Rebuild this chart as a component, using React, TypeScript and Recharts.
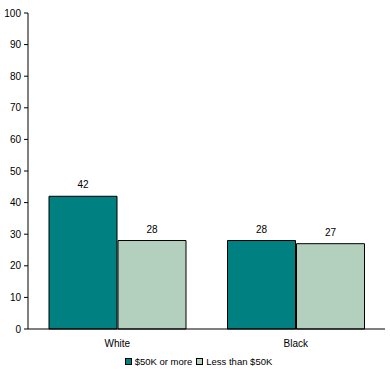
import { Bar, BarChart, LabelList, Legend, XAxis, YAxis } from "recharts";

const categories = ["White", "Black"];
const highIncome = [42, 28];
const lowIncome = [28, 27];
const yTicks = [0, 10, 20, 30, 40, 50, 60, 70, 80, 90, 100];

const SERIES = [
  { key: "high", name: "$50K or more", color: "#008080" },
  { key: "low", name: "Less than $50K", color: "#b3cfbd" },
];

const data = categories.map((c, i) => ({
  category: c,
  high: highIncome[i],
  low: lowIncome[i],
}));

const FONT = "'Liberation Sans', Arial, sans-serif";
const TICK = { fill: "#000", fontSize: 10, fontFamily: FONT } as const;

function LegendContent() {
  return (
    <div
      style={{
        display: "flex",
        justifyContent: "center",
        gap: 4,
        fontFamily: FONT,
        fontSize: 9.5,
        color: "#000",
        paddingLeft: 12,
        paddingTop: 7,
      }}
    >
      {SERIES.map((s) => (
        <span key={s.key} style={{ display: "flex", alignItems: "center", gap: 3 }}>
          <span
            style={{
              width: 5,
              height: 5,
              background: s.color,
              border: "1px solid #000",
              display: "inline-block",
            }}
          />
          {s.name}
        </span>
      ))}
    </div>
  );
}

export default function App() {
  return (
    <div style={{ position: "absolute", left: 0, top: 0, width: 390, height: 375, background: "#fff" }}>
      <BarChart
        width={390}
        height={375}
        data={data}
        margin={{ top: 13, right: 5, left: 0, bottom: 6 }}
        barCategoryGap={21}
        barGap={1}
      >
        <XAxis
          dataKey="category"
          axisLine={{ stroke: "#000" }}
          tickLine={false}
          tick={TICK}
          tickMargin={5}
          height={20}
        />
        <YAxis
          domain={[0, 100]}
          ticks={yTicks}
          interval={0}
          width={28}
          axisLine={{ stroke: "#000" }}
          tickLine={{ stroke: "#000" }}
          tickSize={4}
          tickMargin={3}
          tick={TICK}
        />
        <Legend verticalAlign="bottom" height={20} content={<LegendContent />} />
        {SERIES.map((s) => (
          <Bar
            key={s.key}
            dataKey={s.key}
            name={s.name}
            fill={s.color}
            stroke="#000"
            strokeWidth={1}
            isAnimationActive={false}
          >
            <LabelList dataKey={s.key} position="top" offset={8} fill="#000" fontSize={10} fontFamily={FONT} />
          </Bar>
        ))}
      </BarChart>
    </div>
  );
}
